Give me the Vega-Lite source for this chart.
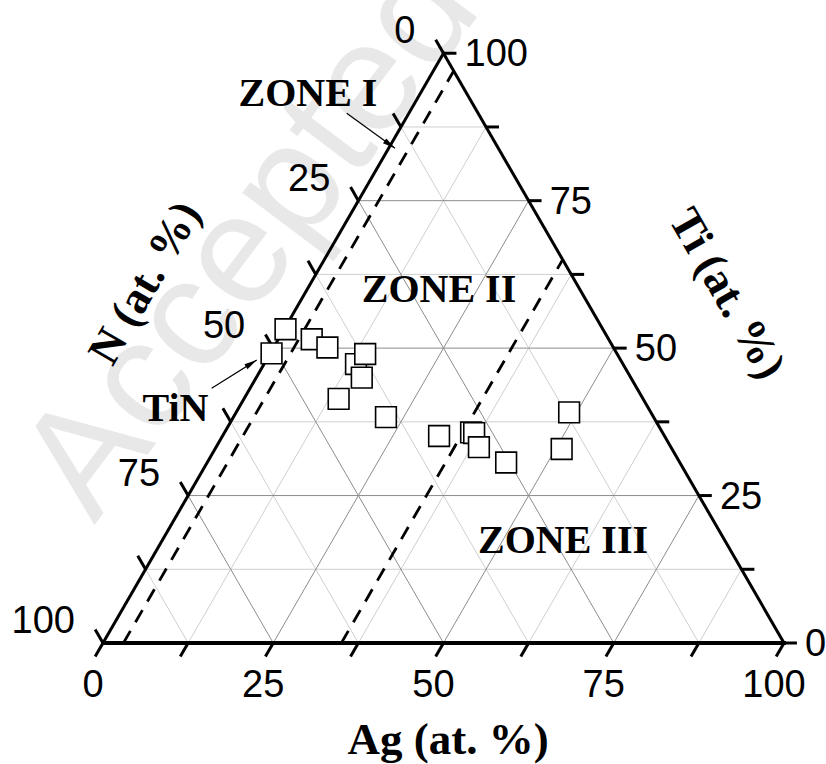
{
  "$schema": "https://vega.github.io/schema/vega-lite/v6.json",
  "width": 826,
  "height": 764,
  "autosize": "none",
  "padding": 0,
  "background": "white",
  "config": {"view": {"stroke": null}},
  "datasets": {
    "grid": [
      {"k":12.5,"a1":0,"t1":12.5,"a2":87.5,"t2":12.5},{"k":12.5,"a1":12.5,"t1":0,"a2":12.5,"t2":87.5},{"k":12.5,"a1":87.5,"t1":0,"a2":0,"t2":87.5},
      {"k":37.5,"a1":0,"t1":37.5,"a2":62.5,"t2":37.5},{"k":37.5,"a1":37.5,"t1":0,"a2":37.5,"t2":62.5},{"k":37.5,"a1":62.5,"t1":0,"a2":0,"t2":62.5},
      {"k":62.5,"a1":0,"t1":62.5,"a2":37.5,"t2":62.5},{"k":62.5,"a1":62.5,"t1":0,"a2":62.5,"t2":37.5},{"k":62.5,"a1":37.5,"t1":0,"a2":0,"t2":37.5},
      {"k":87.5,"a1":0,"t1":87.5,"a2":12.5,"t2":87.5},{"k":87.5,"a1":87.5,"t1":0,"a2":87.5,"t2":12.5},{"k":87.5,"a1":12.5,"t1":0,"a2":0,"t2":12.5},
      {"k":25,"a1":0,"t1":25,"a2":75,"t2":25},{"k":25,"a1":25,"t1":0,"a2":25,"t2":75},{"k":25,"a1":75,"t1":0,"a2":0,"t2":75},
      {"k":50,"a1":0,"t1":50,"a2":50,"t2":50},{"k":50,"a1":50,"t1":0,"a2":50,"t2":50},{"k":50,"a1":50,"t1":0,"a2":0,"t2":50},
      {"k":75,"a1":0,"t1":75,"a2":25,"t2":75},{"k":75,"a1":75,"t1":0,"a2":75,"t2":25},{"k":75,"a1":25,"t1":0,"a2":0,"t2":25}
    ],
    "edges": [
      {"edge":"Ag","a1":0,"t1":0,"a2":100,"t2":0},
      {"edge":"Ti","a1":100,"t1":0,"a2":0,"t2":100},
      {"edge":"N","a1":0,"t1":100,"a2":0,"t2":0}
    ],
    "ticks": [
      {"a1":0,"t1":0,"a2":0,"t2":-2.3},{"a1":12.5,"t1":0,"a2":12.5,"t2":-2.3},{"a1":25,"t1":0,"a2":25,"t2":-2.3},{"a1":37.5,"t1":0,"a2":37.5,"t2":-2.3},{"a1":50,"t1":0,"a2":50,"t2":-2.3},{"a1":62.5,"t1":0,"a2":62.5,"t2":-2.3},{"a1":75,"t1":0,"a2":75,"t2":-2.3},{"a1":87.5,"t1":0,"a2":87.5,"t2":-2.3},{"a1":100,"t1":0,"a2":100,"t2":-2.3},
      {"a1":100,"t1":0,"a2":101.9,"t2":0},{"a1":87.5,"t1":12.5,"a2":89.4,"t2":12.5},{"a1":75,"t1":25,"a2":76.9,"t2":25},{"a1":62.5,"t1":37.5,"a2":64.4,"t2":37.5},{"a1":50,"t1":50,"a2":51.9,"t2":50},{"a1":37.5,"t1":62.5,"a2":39.4,"t2":62.5},{"a1":25,"t1":75,"a2":26.9,"t2":75},{"a1":12.5,"t1":87.5,"a2":14.4,"t2":87.5},{"a1":0,"t1":100,"a2":1.9,"t2":100},
      {"a1":0,"t1":100,"a2":-2.3,"t2":102.3},{"a1":0,"t1":87.5,"a2":-2.3,"t2":89.8},{"a1":0,"t1":75,"a2":-2.3,"t2":77.3},{"a1":0,"t1":62.5,"a2":-2.3,"t2":64.8},{"a1":0,"t1":50,"a2":-2.3,"t2":52.3},{"a1":0,"t1":37.5,"a2":-2.3,"t2":39.8},{"a1":0,"t1":25,"a2":-2.3,"t2":27.3},{"a1":0,"t1":12.5,"a2":-2.3,"t2":14.8},{"a1":0,"t1":0,"a2":-2.3,"t2":2.3}
    ],
    "labels": [
      {"axis":"Ag","ag":0,"ti":0,"text":"0"},{"axis":"Ag","ag":25,"ti":0,"text":"25"},{"axis":"Ag","ag":50,"ti":0,"text":"50"},{"axis":"Ag","ag":75,"ti":0,"text":"75"},{"axis":"Ag","ag":100,"ti":0,"text":"100"},
      {"axis":"Ti","ag":100,"ti":0,"text":"0"},{"axis":"Ti","ag":75,"ti":25,"text":"25"},{"axis":"Ti","ag":50,"ti":50,"text":"50"},{"axis":"Ti","ag":25,"ti":75,"text":"75"},{"axis":"Ti","ag":0,"ti":100,"text":"100"},
      {"axis":"N","ag":0,"ti":100,"text":"0"},{"axis":"N","ag":0,"ti":75,"text":"25"},{"axis":"N","ag":0,"ti":50,"text":"50"},{"axis":"N","ag":0,"ti":25,"text":"75"},{"axis":"N","ag":0,"ti":0,"text":"100"}
    ],
    "dashed": [
      {"a1":3,"t1":0,"a2":3,"t2":97},
      {"a1":35,"t1":0,"a2":35,"t2":65}
    ],
    "samples": [
      {"ag":13.5,"ti":47.3},
      {"ag":36.2,"ti":35.7},
      {"ag":36.7,"ti":35.6},
      {"ag":0.2,"ti":53.2},
      {"ag":0.2,"ti":49.1},
      {"ag":4.9,"ti":51.5},
      {"ag":7.9,"ti":50.1},
      {"ag":14.0,"ti":49.0},
      {"ag":15.5,"ti":45.0},
      {"ag":13.9,"ti":41.4},
      {"ag":22.4,"ti":38.3},
      {"ag":31.8,"ti":35.1},
      {"ag":38.6,"ti":33.2},
      {"ag":43.9,"ti":30.6},
      {"ag":48.9,"ti":39.1},
      {"ag":50.9,"ti":32.9}
    ],
    "notes": [
      {"text":"ZONE I","ag":-15.39,"ti":90.97},
      {"text":"ZONE II","ag":20.43,"ti":57.82},
      {"text":"ZONE III","ag":59.92,"ti":15.26},
      {"text":"TiN","ag":-8.13,"ti":37.56}
    ],
    "arrows": [
      {"name":"zone1","a1":-9.12,"t1":89.82,"a2":0.94,"t2":83.88},
      {"name":"tin","a1":-5.64,"t1":43.19,"a2":-1.42,"t2":47.99}
    ]
  },
  "layer": [
    {
      "data": {"values": [{"text":"Accepted","ag":-12.5,"ti":68.5}]},
      "transform": [{"calculate":"datum.ag + datum.ti/2","as":"x"},{"calculate":"datum.ti*0.8660254","as":"y"}],
      "mark": {"type":"text","font":"Liberation Sans","fontSize":155,"color":"#e8e8e8","angle":-53,"align":"center","baseline":"middle"},
      "encoding": {
        "x": {"field":"x","type":"quantitative","scale":{"domain":[0,100],"range":[103,784],"nice":false,"zero":false},"axis":null},
        "y": {"field":"y","type":"quantitative","scale":{"domain":[0,86.60254],"range":[643,53.24],"nice":false,"zero":false},"axis":null},
        "text": {"field":"text"}
      }
    },
    {
      "data": {"name":"grid"},
      "transform": [{"calculate":"datum.a1 + datum.t1/2","as":"x1"},{"calculate":"datum.t1*0.8660254","as":"y1"},{"calculate":"datum.a2 + datum.t2/2","as":"x2"},{"calculate":"datum.t2*0.8660254","as":"y2"}],
      "mark": {"type":"rule","strokeWidth":1},
      "encoding": {
        "x": {"field":"x1","type":"quantitative"},
        "y": {"field":"y1","type":"quantitative"},
        "x2": {"field":"x2"},
        "y2": {"field":"y2"},
        "color": {"condition":{"test":"datum.k % 25 === 0","value":"#8c8c8c"},"value":"#cfcfcf"}
      }
    },
    {
      "data": {"name":"dashed"},
      "transform": [{"calculate":"datum.a1 + datum.t1/2","as":"x1"},{"calculate":"datum.t1*0.8660254","as":"y1"},{"calculate":"datum.a2 + datum.t2/2","as":"x2"},{"calculate":"datum.t2*0.8660254","as":"y2"}],
      "mark": {"type":"rule","strokeWidth":2.8,"strokeDash":[14,10],"color":"black"},
      "encoding": {
        "x": {"field":"x1","type":"quantitative"},
        "y": {"field":"y1","type":"quantitative"},
        "x2": {"field":"x2"},
        "y2": {"field":"y2"}
      }
    },
    {
      "data": {"name":"ticks"},
      "transform": [{"calculate":"datum.a1 + datum.t1/2","as":"x1"},{"calculate":"datum.t1*0.8660254","as":"y1"},{"calculate":"datum.a2 + datum.t2/2","as":"x2"},{"calculate":"datum.t2*0.8660254","as":"y2"}],
      "mark": {"type":"rule","strokeWidth":3,"color":"black"},
      "encoding": {
        "x": {"field":"x1","type":"quantitative"},
        "y": {"field":"y1","type":"quantitative"},
        "x2": {"field":"x2"},
        "y2": {"field":"y2"}
      }
    },
    {
      "data": {"name":"edges"},
      "transform": [{"calculate":"datum.a1 + datum.t1/2","as":"x1"},{"calculate":"datum.t1*0.8660254","as":"y1"},{"calculate":"datum.a2 + datum.t2/2","as":"x2"},{"calculate":"datum.t2*0.8660254","as":"y2"}],
      "mark": {"type":"rule","color":"black","strokeCap":"square"},
      "encoding": {
        "x": {"field":"x1","type":"quantitative"},
        "y": {"field":"y1","type":"quantitative"},
        "x2": {"field":"x2"},
        "y2": {"field":"y2"},
        "strokeWidth": {"condition":{"test":"datum.edge === 'Ag'","value":4},"value":3}
      }
    },
    {
      "data": {"name":"arrows"},
      "transform": [{"calculate":"datum.a1 + datum.t1/2","as":"x1"},{"calculate":"datum.t1*0.8660254","as":"y1"},{"calculate":"datum.a2 + datum.t2/2","as":"x2"},{"calculate":"datum.t2*0.8660254","as":"y2"}],
      "mark": {"type":"rule","strokeWidth":1.2,"color":"black"},
      "encoding": {
        "x": {"field":"x1","type":"quantitative"},
        "y": {"field":"y1","type":"quantitative"},
        "x2": {"field":"x2"},
        "y2": {"field":"y2"}
      }
    },
    {
      "data": {"name":"arrows"},
      "transform": [{"filter":"datum.name === 'zone1'"},{"calculate":"datum.a2 + datum.t2/2","as":"x"},{"calculate":"datum.t2*0.8660254","as":"y"}],
      "mark": {"type":"point","shape":"M0,0L0.4,1.8L-0.4,1.8Z","size":200,"filled":true,"color":"black","opacity":1,"angle":125.7},
      "encoding": {
        "x": {"field":"x","type":"quantitative"},
        "y": {"field":"y","type":"quantitative"}
      }
    },
    {
      "data": {"name":"arrows"},
      "transform": [{"filter":"datum.name === 'tin'"},{"calculate":"datum.a2 + datum.t2/2","as":"x"},{"calculate":"datum.t2*0.8660254","as":"y"}],
      "mark": {"type":"point","shape":"M0,0L0.4,1.8L-0.4,1.8Z","size":200,"filled":true,"color":"black","opacity":1,"angle":57.9},
      "encoding": {
        "x": {"field":"x","type":"quantitative"},
        "y": {"field":"y","type":"quantitative"}
      }
    },
    {
      "data": {"name":"samples"},
      "transform": [{"calculate":"datum.ag + datum.ti/2","as":"x"},{"calculate":"datum.ti*0.8660254","as":"y"}],
      "mark": {"type":"point","shape":"square","size":430,"filled":true,"fill":"white","stroke":"black","strokeWidth":1.6,"opacity":1},
      "encoding": {
        "x": {"field":"x","type":"quantitative"},
        "y": {"field":"y","type":"quantitative"}
      }
    },
    {
      "data": {"name":"labels"},
      "transform": [{"filter":"datum.axis === 'Ag'"},{"calculate":"datum.ag + datum.ti/2","as":"x"},{"calculate":"datum.ti*0.8660254","as":"y"}],
      "mark": {"type":"text","font":"Liberation Sans","fontSize":38,"color":"black","align":"center","baseline":"alphabetic","dx":-10,"dy":54},
      "encoding": {
        "x": {"field":"x","type":"quantitative"},
        "y": {"field":"y","type":"quantitative"},
        "text": {"field":"text"}
      }
    },
    {
      "data": {"name":"labels"},
      "transform": [{"filter":"datum.axis === 'Ti'"},{"calculate":"datum.ag + datum.ti/2","as":"x"},{"calculate":"datum.ti*0.8660254","as":"y"}],
      "mark": {"type":"text","font":"Liberation Sans","fontSize":38,"color":"black","align":"left","baseline":"alphabetic","dx":21,"dy":13},
      "encoding": {
        "x": {"field":"x","type":"quantitative"},
        "y": {"field":"y","type":"quantitative"},
        "text": {"field":"text"}
      }
    },
    {
      "data": {"name":"labels"},
      "transform": [{"filter":"datum.axis === 'N'"},{"calculate":"datum.ag + datum.ti/2","as":"x"},{"calculate":"datum.ti*0.8660254","as":"y"}],
      "mark": {"type":"text","font":"Liberation Sans","fontSize":38,"color":"black","align":"right","baseline":"alphabetic","dx":-28,"dy":-10},
      "encoding": {
        "x": {"field":"x","type":"quantitative"},
        "y": {"field":"y","type":"quantitative"},
        "text": {"field":"text"}
      }
    },
    {
      "data": {"name":"notes"},
      "transform": [{"calculate":"datum.ag + datum.ti/2","as":"x"},{"calculate":"datum.ti*0.8660254","as":"y"}],
      "mark": {"type":"text","font":"Liberation Serif","fontWeight":"bold","fontSize":40,"color":"black","align":"center","baseline":"alphabetic","letterSpacing":-1},
      "encoding": {
        "x": {"field":"x","type":"quantitative"},
        "y": {"field":"y","type":"quantitative"},
        "text": {"field":"text"}
      }
    },
    {
      "data": {"values": [{"text":"Ag (at. %)","ag":60.1,"ti":-18.87}]},
      "transform": [{"calculate":"datum.ag + datum.ti/2","as":"x"},{"calculate":"datum.ti*0.8660254","as":"y"}],
      "mark": {"type":"text","font":"Liberation Serif","fontWeight":"bold","fontSize":45,"color":"black","align":"center","baseline":"alphabetic"},
      "encoding": {
        "x": {"field":"x","type":"quantitative"},
        "y": {"field":"y","type":"quantitative"},
        "text": {"field":"text"}
      }
    },
    {
      "data": {"values": [{"text":"N (at. %)","ag":-24.35,"ti":61.04}]},
      "transform": [{"calculate":"datum.ag + datum.ti/2","as":"x"},{"calculate":"datum.ti*0.8660254","as":"y"}],
      "mark": {"type":"text","font":"Liberation Serif","fontWeight":"bold","fontSize":45,"color":"black","align":"center","baseline":"middle","angle":-60},
      "encoding": {
        "x": {"field":"x","type":"quantitative"},
        "y": {"field":"y","type":"quantitative"},
        "text": {"field":"text"}
      }
    },
    {
      "data": {"values": [{"text":"Ti (at. %)","ag":62.0,"ti":59.26}]},
      "transform": [{"calculate":"datum.ag + datum.ti/2","as":"x"},{"calculate":"datum.ti*0.8660254","as":"y"}],
      "mark": {"type":"text","font":"Liberation Serif","fontWeight":"bold","fontSize":45,"color":"black","align":"center","baseline":"middle","angle":60},
      "encoding": {
        "x": {"field":"x","type":"quantitative"},
        "y": {"field":"y","type":"quantitative"},
        "text": {"field":"text"}
      }
    }
  ]
}
